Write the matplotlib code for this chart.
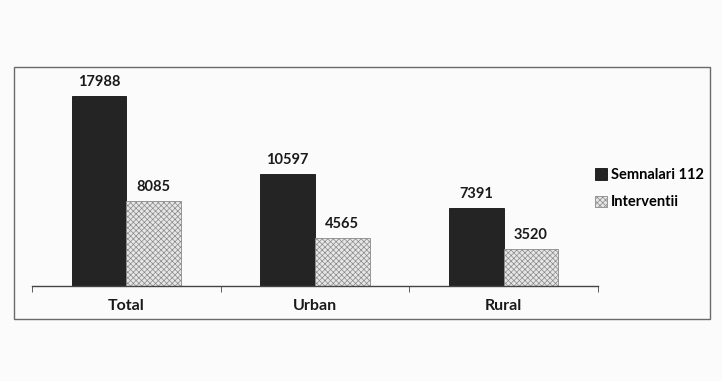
import numpy as np
import matplotlib.pyplot as plt
from matplotlib.patches import Rectangle

categories = ['Total', 'Urban', 'Rural']
semnalari = [17988, 10597, 7391]
interventii = [8085, 4565, 3520]
series_names = ['Semnalari 112', 'Interventii']

plt.rcParams['font.family'] = ['Lato', 'DejaVu Sans']
plt.rcParams['hatch.linewidth'] = 0.5
plt.rcParams['hatch.color'] = '#9a9a9a'

fig = plt.figure(figsize=(7.22, 3.81), dpi=100)
fig.patch.set_facecolor('#fbfbfb')

# outer chart frame
fig.add_artist(Rectangle((0.019, 0.163), 0.965, 0.66, transform=fig.transFigure,
                         fill=False, edgecolor='#6a6a6a', linewidth=1.0))

ax = fig.add_axes([0.0443, 0.2493, 0.7837, 0.554])
ax.set_facecolor('none')

x = np.arange(len(categories))
w = 0.29
b1 = ax.bar(x - w/2, semnalari, w, color='#242424', edgecolor='#111111',
            linewidth=0.6, label=series_names[0])
b2 = ax.bar(x + w/2, interventii, w, color='#e6e6e6', edgecolor='#8a8a8a',
            linewidth=0.6, hatch='xxxxxx', label=series_names[1])

for bars in (b1, b2):
    for r in bars:
        ax.annotate(f'{int(r.get_height())}', (r.get_x() + r.get_width()/2, r.get_height()),
                    xytext=(0, 5), textcoords='offset points', ha='center', va='bottom',
                    fontsize=10.5, fontweight='bold', color='#1a1a1a')

ax.set_xlim(-0.5, 2.5)
ax.set_ylim(0, 20000)
ax.set_yticks([])
for s in ('top', 'right', 'left'):
    ax.spines[s].set_visible(False)
ax.spines['bottom'].set_color('#444444')
ax.spines['bottom'].set_linewidth(1.0)
ax.set_xticks(x)
ax.set_xticklabels(categories, fontsize=11.5, fontweight='bold', color='#1a1a1a')
ax.tick_params(axis='x', which='major', length=0, pad=9)
ax.set_xticks([-0.5, 0.5, 1.5, 2.5], minor=True)
ax.tick_params(axis='x', which='minor', length=4, direction='out', color='#444444')

fig.legend(handles=[b1, b2], loc='center left', bbox_to_anchor=(0.806, 0.505),
           frameon=False, handlelength=0.8, handleheight=0.8,
           handletextpad=0.3, labelspacing=0.9,
           prop={'weight': 'bold', 'size': 10.5})

fig.savefig('out.png', dpi=100, facecolor=fig.get_facecolor())
